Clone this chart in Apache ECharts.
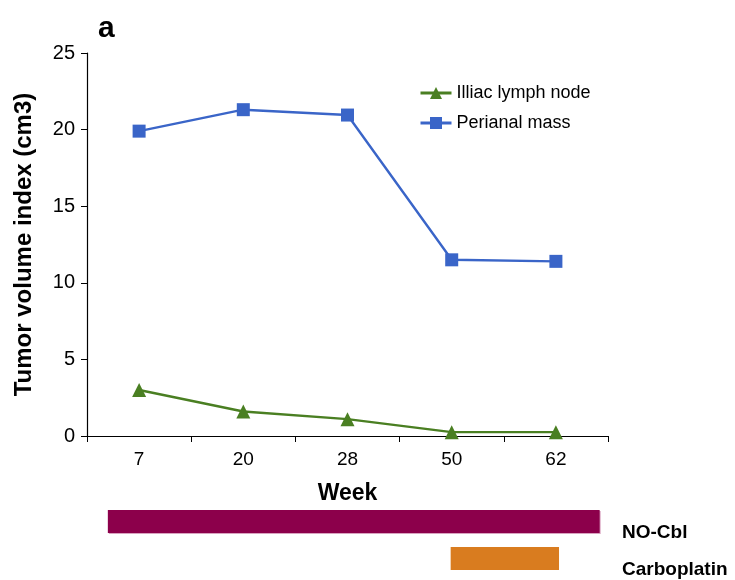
<!DOCTYPE html>
<html>
<head>
<meta charset="utf-8">
<script src="https://cdn.jsdelivr.net/npm/echarts@6/dist/echarts.min.js"></script>
<style>
  html, body { margin: 0; padding: 0; background: #fff; }
  #chart { width: 735px; height: 580px; }
</style>
</head>
<body>
<div id="chart"></div>
<script>
const weeks = ['7', '20', '28', '50', '62']
const illiacNode = [3.0, 1.6, 1.1, 0.25, 0.25]
const perianalMass = [19.9, 21.3, 20.95, 11.5, 11.4]
const yTicks = [0, 5, 10, 15, 20, 25]

// treatment periods, in week-axis slot units (slot 0 = week 7)
const treatments = ['NO-Cbl', 'Carboplatin']
const treatmentStart = [-0.3, 2.99]
const treatmentEnd = [4.42, 4.03]
const treatmentColors = ['#8c004b', '#d97c1f']

const font = 'Liberation Sans, Arial, Helvetica, sans-serif'
const green = '#4a7f22'
const blue = '#3a65c8'

const chart = echarts.init(document.getElementById('chart'))

chart.setOption({
  animation: false,
  textStyle: { fontFamily: font },
  title: {
    text: 'a',
    left: 93,
    top: 9,
    textStyle: { fontSize: 30, fontWeight: 'bold', color: '#000', fontFamily: font }
  },
  legend: {
    orient: 'vertical',
    left: 414,
    top: 79,
    itemWidth: 31,
    itemHeight: 15,
    itemGap: 12,
    lineStyle: { width: 3 },
    textStyle: { fontSize: 18, color: '#000', fontFamily: font },
    data: ['Illiac lymph node', 'Perianal mass']
  },
  grid: [
    { left: 87, right: 127, top: 53, bottom: 144 },
    { left: 87, right: 127, top: 503, height: 74 }
  ],
  xAxis: [{
    type: 'category',
    gridIndex: 0,
    data: weeks,
    boundaryGap: true,
    name: 'Week',
    nameLocation: 'middle',
    nameGap: 46,
    nameTextStyle: { fontSize: 23, fontWeight: 'bold', color: '#000', fontFamily: font },
    axisLine: { lineStyle: { color: '#000', width: 1.2 } },
    axisTick: { show: true, length: 6, alignWithLabel: false, lineStyle: { color: '#000' } },
    axisLabel: { fontSize: 19, color: '#000', margin: 14, fontFamily: font }
  }, {
    type: 'value',
    gridIndex: 1,
    min: -0.5,
    max: 4.5,
    show: false
  }],
  yAxis: [{
    type: 'value',
    gridIndex: 0,
    min: 0,
    max: 25,
    interval: 5,
    name: 'Tumor volume index (cm3)',
    nameLocation: 'middle',
    nameGap: 51,
    nameTextStyle: { fontSize: 24, fontWeight: 'bold', color: '#000', fontFamily: font },
    axisLine: { show: true, lineStyle: { color: '#000', width: 1.2 } },
    axisTick: { show: true, length: 6, lineStyle: { color: '#000' } },
    splitLine: { show: false },
    axisLabel: {
      fontSize: 20,
      color: '#000',
      margin: 12,
      fontFamily: font,
      formatter: v => yTicks.includes(v) ? String(v) : ''
    }
  }, {
    type: 'category',
    gridIndex: 1,
    data: treatments,
    inverse: true,
    position: 'right',
    axisLine: { show: false },
    axisTick: { show: false },
    axisLabel: {
      fontSize: 19,
      fontWeight: 'bold',
      color: '#000',
      margin: 14,
      align: 'left',
      verticalAlign: 'top',
      padding: [2, 0, 0, 0],
      fontFamily: font
    }
  }],
  series: [{
    name: 'Illiac lymph node',
    type: 'line',
    xAxisIndex: 0,
    yAxisIndex: 0,
    data: illiacNode,
    symbol: 'triangle',
    symbolSize: 14,
    itemStyle: { color: green },
    lineStyle: { color: green, width: 2.4 }
  }, {
    name: 'Perianal mass',
    type: 'line',
    xAxisIndex: 0,
    yAxisIndex: 0,
    data: perianalMass,
    symbol: 'rect',
    symbolSize: 13,
    itemStyle: { color: blue },
    lineStyle: { color: blue, width: 2.4 }
  }, {
    type: 'custom',
    xAxisIndex: 1,
    yAxisIndex: 1,
    data: treatments.map((t, i) => [treatmentStart[i], treatmentEnd[i], i]),
    encode: { x: [0, 1], y: 2 },
    renderItem: (params, api) => {
      const i = api.value(2)
      const a = api.coord([api.value(0), i])
      const b = api.coord([api.value(1), i])
      const h = 23
      return {
        type: 'group',
        children: [{
          type: 'rect',
          shape: { x: a[0] + 1, y: a[1] - h / 2 + 1, width: b[0] - a[0], height: h },
          style: { fill: i === 0 ? '#d9a3c0' : 'rgba(0,0,0,0)' }
        }, {
          type: 'rect',
          shape: { x: a[0], y: a[1] - h / 2, width: b[0] - a[0], height: h },
          style: { fill: treatmentColors[i] }
        }]
      }
    }
  }]
})
</script>
</body>
</html>
